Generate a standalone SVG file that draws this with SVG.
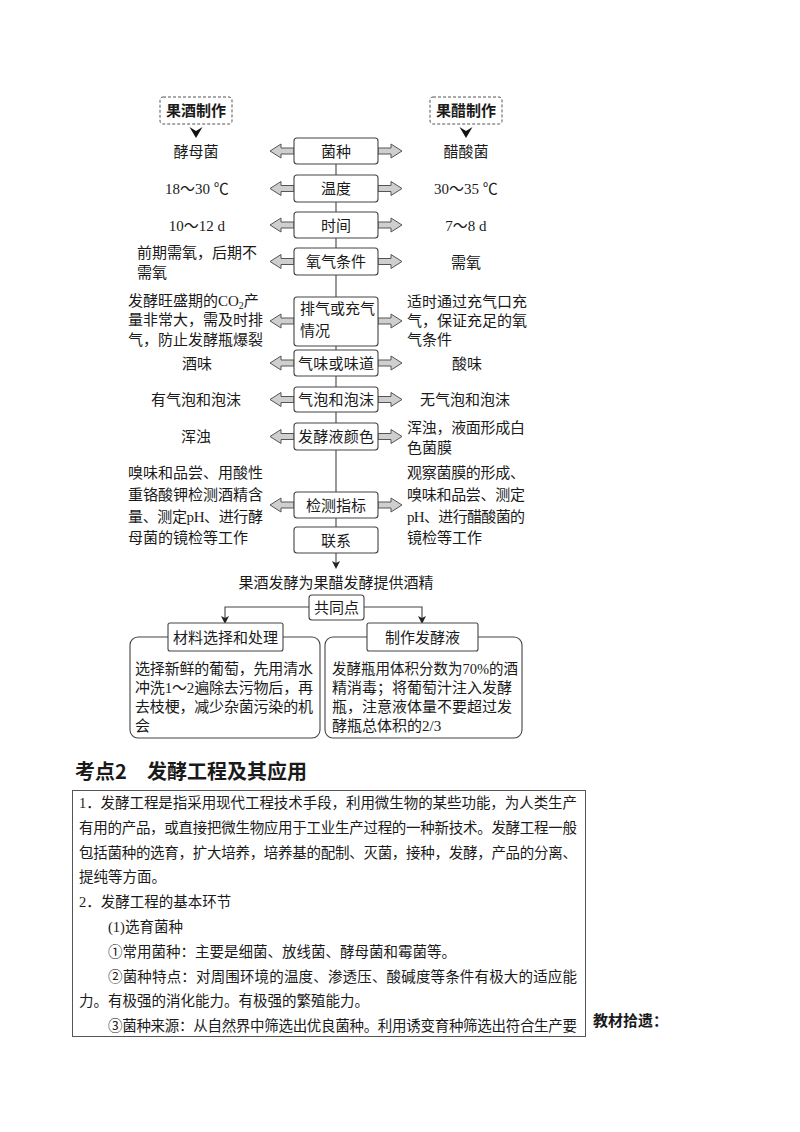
<svg xmlns="http://www.w3.org/2000/svg" xmlns:xlink="http://www.w3.org/1999/xlink" width="800" height="1132" viewBox="0 0 800 1132">
<style>
text{font-family:"Liberation Serif","Noto Sans CJK SC",serif;font-size:15px;fill:#1a1a1a}
.c{text-anchor:middle}
.sans{font-family:"Noto Sans CJK SC","Liberation Sans",sans-serif}
.box{fill:#fff;stroke:#444;stroke-width:1.1}
.dash{fill:#fff;stroke:#555;stroke-width:1;stroke-dasharray:3,2}
.ha{fill:#cfcfcf;stroke:#555;stroke-width:1}
.ln{fill:none;stroke:#444;stroke-width:1.1}
.body{font-size:14.5px}
.h{font-family:"Noto Sans CJK SC","Liberation Sans",sans-serif;font-weight:bold;font-size:20px}
</style>
<defs>
<path id="la" class="ha" d="M0,0 L11,-7 L11,-3 L24,-3 L24,3 L11,3 L11,7 Z"/>
<path id="ra" class="ha" d="M0,-3 L13,-3 L13,-7 L24,0 L13,7 L13,3 L0,3 Z"/>
<path id="chev" fill="#111" d="M-6.5,0 L0,4 L6.5,0 L0,11 Z"/>
<path id="ah" fill="#222" d="M-4,-7 L0,-5 L4,-7 L0,1 Z"/>
</defs>
<rect width="800" height="1132" fill="#fff"/>

<g id="connectors">
<line class="ln" x1="336" y1="164" x2="336" y2="566"/>
<use xlink:href="#ah" x="336" y="568"/>
<polyline class="ln" points="309,607 225,607 225,620"/>
<use xlink:href="#ah" x="225" y="623"/>
<polyline class="ln" points="364,607 422,607 422,620"/>
<use xlink:href="#ah" x="422" y="623"/>
<use xlink:href="#chev" x="196" y="127"/>
<use xlink:href="#chev" x="466" y="127"/>
<use xlink:href="#la" x="270" y="151"/><use xlink:href="#ra" x="378" y="151"/>
<use xlink:href="#la" x="270" y="188.5"/><use xlink:href="#ra" x="378" y="188.5"/>
<use xlink:href="#la" x="270" y="225"/><use xlink:href="#ra" x="378" y="225"/>
<use xlink:href="#la" x="270" y="261.5"/><use xlink:href="#ra" x="378" y="261.5"/>
<use xlink:href="#la" x="270" y="321"/><use xlink:href="#ra" x="378" y="321"/>
<use xlink:href="#la" x="270" y="363"/><use xlink:href="#ra" x="378" y="363"/>
<use xlink:href="#la" x="270" y="399.5"/><use xlink:href="#ra" x="378" y="399.5"/>
<use xlink:href="#la" x="270" y="436.5"/><use xlink:href="#ra" x="378" y="436.5"/>
<use xlink:href="#la" x="270" y="505"/><use xlink:href="#ra" x="378" y="505"/>
</g>

<g id="guojiu"><rect class="dash" x="160" y="97" width="72" height="27" rx="3"/><text class="c sans" x="196" y="116" font-weight="bold">果酒制作</text></g>
<g id="guocu"><rect class="dash" x="430" y="97" width="72" height="27" rx="3"/><text class="c sans" x="466" y="116" font-weight="bold">果醋制作</text></g>

<g id="junzhong"><rect class="box" x="294" y="138" width="84" height="26" rx="3"/><text class="c" x="336" y="156.5">菌种</text>
<text class="c" x="196" y="157">酵母菌</text><text class="c" x="466" y="157">醋酸菌</text></g>
<g id="wendu"><rect class="box" x="294" y="175" width="84" height="27" rx="3"/><text class="c" x="336" y="194">温度</text>
<text class="c" x="197" y="194">18～30 ℃</text><text class="c" x="466" y="194">30～35 ℃</text></g>
<g id="shijian"><rect class="box" x="294" y="212" width="84" height="26" rx="3"/><text class="c" x="336" y="230.5">时间</text>
<text class="c" x="197" y="230.5">10～12 d</text><text class="c" x="466" y="230.5">7～8 d</text></g>
<g id="yangqi"><rect class="box" x="294" y="248" width="84" height="27" rx="3"/><text class="c" x="336" y="267">氧气条件</text>
<text x="137" y="257.5" textLength="120" lengthAdjust="spacing">前期需氧，后期不</text><text x="137" y="277.5">需氧</text>
<text class="c" x="466" y="268">需氧</text></g>
<g id="paiqi"><rect class="box" x="294" y="297" width="84" height="49" rx="3"/><text x="300" y="314" textLength="75" lengthAdjust="spacing">排气或充气</text><text x="300" y="336">情况</text>
<text x="128" y="305.5">发酵旺盛期的CO<tspan font-size="10" dy="3">2</tspan><tspan dy="-3">产</tspan></text>
<text x="128" y="324.5" textLength="135" lengthAdjust="spacing">量非常大，需及时排</text>
<text x="128" y="344.5" textLength="135" lengthAdjust="spacing">气，防止发酵瓶爆裂</text>
<text x="407" y="306.5" textLength="120" lengthAdjust="spacing">适时通过充气口充</text>
<text x="407" y="325.5" textLength="120" lengthAdjust="spacing">气，保证充足的氧</text>
<text x="407" y="344.5">气条件</text></g>
<g id="weidao"><rect class="box" x="294" y="350" width="84" height="26" rx="3"/><text class="c" x="336" y="368.5" textLength="76" lengthAdjust="spacing">气味或味道</text>
<text class="c" x="197" y="368.5">酒味</text><text class="c" x="467" y="368.5">酸味</text></g>
<g id="qipao"><rect class="box" x="294" y="387" width="84" height="25" rx="3"/><text class="c" x="336" y="405" textLength="76" lengthAdjust="spacing">气泡和泡沫</text>
<text class="c" x="196" y="405">有气泡和泡沫</text><text class="c" x="465" y="405">无气泡和泡沫</text></g>
<g id="yanse"><rect class="box" x="294" y="423" width="84" height="27" rx="3"/><text class="c" x="336" y="442" textLength="76" lengthAdjust="spacing">发酵液颜色</text>
<text class="c" x="196" y="442">浑浊</text>
<text x="407" y="432.5" textLength="118" lengthAdjust="spacing">浑浊，液面形成白</text><text x="407" y="452.5">色菌膜</text></g>
<g id="jiance"><rect class="box" x="294" y="492" width="84" height="26" rx="3"/><text class="c" x="336" y="510.5">检测指标</text>
<text x="128" y="477.5" textLength="135" lengthAdjust="spacing">嗅味和品尝、用酸性</text>
<text x="128" y="499.5" textLength="135" lengthAdjust="spacing">重铬酸钾检测酒精含</text>
<text x="128" y="521.5" textLength="135" lengthAdjust="spacing">量、测定pH、进行酵</text>
<text x="128" y="542.5">母菌的镜检等工作</text>
<text x="407" y="477.5" textLength="118" lengthAdjust="spacing">观察菌膜的形成、</text>
<text x="407" y="499.5" textLength="118" lengthAdjust="spacing">嗅味和品尝、测定</text>
<text x="407" y="521.5" textLength="118" lengthAdjust="spacing">pH、进行醋酸菌的</text>
<text x="407" y="542.5">镜检等工作</text></g>
<g id="lianxi"><rect class="box" x="294" y="527" width="84" height="26" rx="3"/><text class="c" x="336" y="545.5">联系</text></g>
<g id="tigong"><text class="c" x="336" y="587.5">果酒发酵为果醋发酵提供酒精</text></g>
<g id="gongtong"><rect class="box" x="309" y="595" width="55" height="25" rx="3"/><text class="c" x="336.5" y="613">共同点</text></g>

<g id="cailiao"><rect class="box" x="130" y="637" width="190" height="101" rx="8"/>
<rect class="box" x="168" y="623" width="115" height="28" rx="2"/><text class="c" x="225.5" y="642.5">材料选择和处理</text>
<text x="135" y="673.5" textLength="178" lengthAdjust="spacing">选择新鲜的葡萄，先用清水</text>
<text x="135" y="692.5" textLength="178" lengthAdjust="spacing">冲洗1～2遍除去污物后，再</text>
<text x="135" y="711.5" textLength="178" lengthAdjust="spacing">去枝梗，减少杂菌污染的机</text>
<text x="135" y="730.5">会</text></g>
<g id="zhizuo"><rect class="box" x="325" y="637" width="197" height="101" rx="8"/>
<rect class="box" x="367" y="623" width="111" height="28" rx="2"/><text class="c" x="422.5" y="642.5">制作发酵液</text>
<text x="332" y="673.5" textLength="186" lengthAdjust="spacingAndGlyphs">发酵瓶用体积分数为70%的酒</text>
<text x="332" y="692.5" textLength="180" lengthAdjust="spacing">精消毒；将葡萄汁注入发酵</text>
<text x="332" y="711.5" textLength="180" lengthAdjust="spacing">瓶，注意液体量不要超过发</text>
<text x="332" y="730.5">酵瓶总体积的2/3</text></g>

<g id="heading"><text class="h" x="75" y="779">考点2</text><text class="h" x="147" y="779">发酵工程及其应用</text></g>

<g id="textbox"><rect fill="#fff" stroke="#555" stroke-width="1" x="72.5" y="790.5" width="513" height="246"/>
<text class="body" x="79" y="808" textLength="498" lengthAdjust="spacing">1．发酵工程是指采用现代工程技术手段，利用微生物的某些功能，为人类生产</text>
<text class="body" x="79" y="833" textLength="498" lengthAdjust="spacing">有用的产品，或直接把微生物应用于工业生产过程的一种新技术。发酵工程一般</text>
<text class="body" x="79" y="858" textLength="498" lengthAdjust="spacing">包括菌种的选育，扩大培养，培养基的配制、灭菌，接种，发酵，产品的分离、</text>
<text class="body" x="79" y="882">提纯等方面。</text>
<text class="body" x="79" y="907">2．发酵工程的基本环节</text>
<text class="body" x="108" y="932">(1)选育菌种</text>
<text class="body" x="108" y="957">①常用菌种：主要是细菌、放线菌、酵母菌和霉菌等。</text>
<text class="body" x="108" y="982" textLength="469" lengthAdjust="spacing">②菌种特点：对周围环境的温度、渗透压、酸碱度等条件有极大的适应能</text>
<text class="body" x="79" y="1006">力。有极强的消化能力。有极强的繁殖能力。</text>
<text class="body" x="108" y="1031" textLength="469" lengthAdjust="spacing">③菌种来源：从自然界中筛选出优良菌种。利用诱变育种筛选出符合生产要</text>
</g>
<g id="jiaocai"><text class="sans" x="593" y="1026" font-size="13.5" font-weight="bold">教材拾遗：</text></g>
</svg>
